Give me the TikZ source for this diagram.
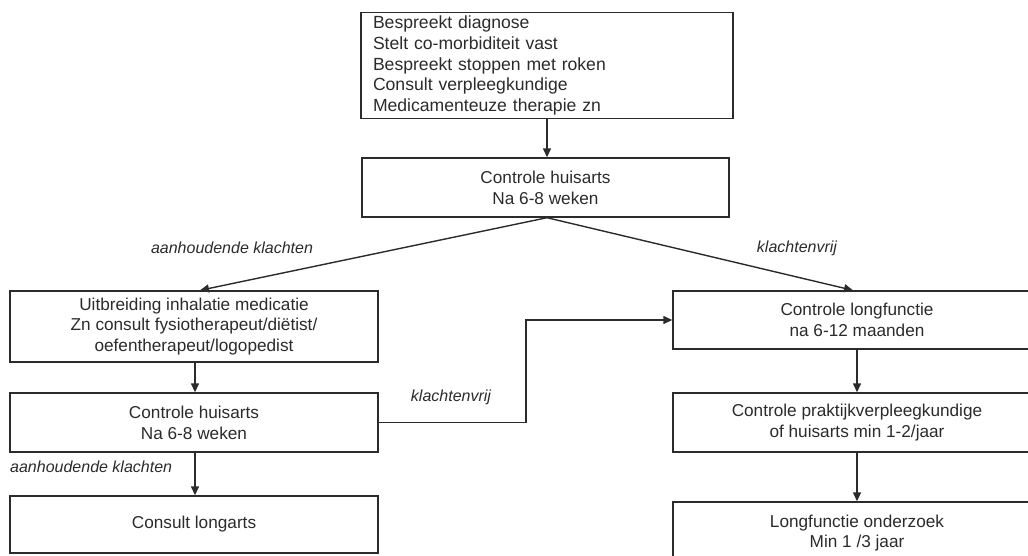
\documentclass[tikz,border=0pt]{standalone}
\usepackage{fontspec}
\setmainfont{Liberation Sans}
\usetikzlibrary{arrows.meta,calc}
\definecolor{ink}{HTML}{2B2B2B}
\tikzset{
  box/.style={draw=ink, line width=1.4pt, text=ink, minimum width=368pt, align=center,
    font=\fontsize{17.2}{20.7}\selectfont, inner xsep=6pt, inner ysep=3pt},
  lbl/.style={text=ink, font=\fontsize{16}{19}\selectfont\itshape, inner sep=0pt},
  conn/.style={draw=ink, line width=1.4pt},
  arr/.style={conn, -{Triangle[length=9pt,width=8pt]}}
}
\begin{document}
\begin{tikzpicture}[x=1pt,y=-1pt]
\useasboundingbox (0,0) rectangle (1028,555);
\begin{scope}
\clip (0,0) rectangle (1028,555);
\node[box, minimum width=372pt, minimum height=105pt, text width=348pt, align=left, inner xsep=12pt,
  font=\fontsize{17.6}{20.8}\selectfont] (top) at (547,65.5)
  {Bespreekt diagnose\\Stelt co-morbiditeit vast\\Bespreekt stoppen met roken\\Consult verpleegkundige\\Medicamenteuze therapie zn};
\node[box, minimum width=367pt, minimum height=59pt] (b2) at (545.5,187.5) {Controle huisarts\\Na 6-8 weken};
\node[box, minimum height=71pt] (L1) at (194,326.5) {Uitbreiding inhalatie medicatie\\Zn consult fysiotherapeut/diëtist/\\oefentherapeut/logopedist};
\node[box, minimum height=59pt] (L2) at (194,422.5) {Controle huisarts\\Na 6-8 weken};
\node[box, minimum height=57pt] (L3) at (194,524.5) {Consult longarts};
\node[box, minimum height=58pt] (R1) at (857,320) {Controle longfunctie\\na 6-12 maanden};
\node[box, minimum height=59pt] (R2) at (857,422.5) {Controle praktijkverpleegkundige\\of huisarts min 1-2/jaar};
\node[box, minimum height=62pt] (R3) at (857,533) {Longfunctie onderzoek\\Min 1 /3 jaar};

\node[lbl] (la1) at (232,248) {aanhoudende klachten};
\node[lbl] (lk1) at (797,248) {klachtenvrij};
\node[lbl] (lk2) at (451,397) {klachtenvrij};
\node[lbl, anchor=west] (la2) at (10,467) {aanhoudende klachten};

\coordinate (bend1) at (526,422.5);
\coordinate (bend2) at (526,320);

\draw[arr] (top.south -| b2.south) ++(1.5,0) coordinate (t0) -- ($(t0|-b2.north)$);
\draw[arr] ($(b2.south)+(1.5,0)$) -- ($(L1.north)+(6,0)$);
\draw[arr] ($(b2.south)+(1.5,0)$) -- ($(R1.north)+(-4,0)$);
\draw[arr] ($(L1.south)+(1,0)$) -- ($(L2.north)+(1,0)$);
\draw[arr] ($(L2.south)+(1,0)$) -- ($(L3.north)+(1,0)$);
\draw[arr] (R1.south) -- (R2.north);
\draw[arr] (R2.south) -- (R3.north);
\draw[arr] (L2.east) -- (bend1) -- (bend2) -- (R1.west);
\end{scope}
\end{tikzpicture}
\end{document}
